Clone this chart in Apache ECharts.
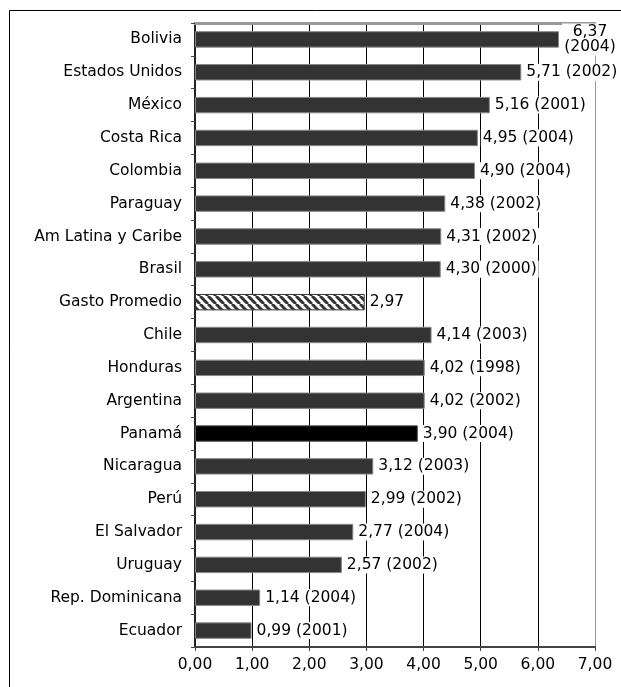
<!DOCTYPE html>
<html>
<head>
<meta charset="utf-8">
<script src="https://cdn.jsdelivr.net/npm/echarts@6/dist/echarts.min.js"></script>
<style>
  html, body { margin: 0; padding: 0; background: #fff; }
  #chart { width: 621px; height: 687px; }
</style>
</head>
<body>
<div id="chart"></div>
<script>
// datos del gráfico
const countries = ['Bolivia', 'Estados Unidos', 'México', 'Costa Rica', 'Colombia', 'Paraguay',
  'Am Latina y Caribe', 'Brasil', 'Gasto Promedio', 'Chile', 'Honduras', 'Argentina', 'Panamá',
  'Nicaragua', 'Perú', 'El Salvador', 'Uruguay', 'Rep. Dominicana', 'Ecuador']
const values = [6.37, 5.71, 5.16, 4.95, 4.90, 4.38, 4.31, 4.30, 2.97, 4.14, 4.02, 4.02, 3.90,
  3.12, 2.99, 2.77, 2.57, 1.14, 0.99]
const years = ['2004', '2002', '2001', '2004', '2004', '2002', '2002', '2000', '', '2003', '1998',
  '2002', '2004', '2003', '2002', '2004', '2002', '2004', '2001']
const xTicks = [0, 1, 2, 3, 4, 5, 6, 7]

const fmt = v => v.toFixed(2).replace('.', ',')
const FS = 15.5

// trama diagonal para el promedio
const hatch = document.createElement('canvas')
hatch.width = 8
hatch.height = 8
const hc = hatch.getContext('2d')
hc.fillStyle = '#fff'
hc.fillRect(0, 0, 8, 8)
hc.strokeStyle = '#333'
hc.lineWidth = 3
hc.beginPath()
for (let k = -8; k <= 16; k += 8) {
  hc.moveTo(k, 0)
  hc.lineTo(k + 8, 8)
}
hc.stroke()

const chart = echarts.init(document.getElementById('chart'))

const data = values.map((v, i) => {
  const item = { value: v }
  if (countries[i] === 'Panamá') {
    item.itemStyle = { color: '#000', borderColor: '#555' }
  }
  if (countries[i] === 'Gasto Promedio') {
    item.itemStyle = { color: { image: hatch, repeat: 'repeat' }, borderColor: '#333' }
  }
  return item
})

// la última línea vertical (7,00) es gris
const gridColors = xTicks.map((t, i) => i === xTicks.length - 1 ? '#999' : '#000')

chart.setOption({
  animation: false,
  textStyle: { fontFamily: 'DejaVu Sans' },
  grid: { left: 195, right: 26, top: 23, bottom: 40 },
  graphic: [{
    type: 'rect',
    shape: { x: 9.5, y: 10.5, width: 640, height: 690 },
    style: { fill: 'none', stroke: '#000', lineWidth: 1 },
    silent: true
  }],
  xAxis: [{
    type: 'value',
    min: xTicks[0],
    max: xTicks[xTicks.length - 1],
    interval: 1,
    axisLine: { show: true, lineStyle: { color: '#444', width: 2 } },
    axisTick: { show: true, length: 4, lineStyle: { color: '#444' } },
    axisLabel: { color: '#000', fontSize: FS, margin: 10, formatter: v => fmt(v) },
    splitLine: { show: true, lineStyle: { color: gridColors, width: 1 } }
  }, {
    type: 'value',
    position: 'top',
    min: xTicks[0],
    max: xTicks[xTicks.length - 1],
    interval: 1,
    axisLine: { show: true, lineStyle: { color: '#999', width: 3 } },
    axisTick: { show: false },
    axisLabel: { show: false },
    splitLine: { show: false }
  }],
  yAxis: {
    type: 'category',
    data: countries,
    inverse: true,
    axisLine: { show: true, lineStyle: { color: '#222', width: 2 } },
    axisTick: { show: true, length: 4, lineStyle: { color: '#444' } },
    axisLabel: { color: '#000', fontSize: FS, margin: 13 }
  },
  series: [{
    type: 'bar',
    data: data,
    barWidth: '50%',
    z: 3,
    itemStyle: { color: '#333', borderColor: '#888', borderWidth: 1 },
    label: {
      show: true,
      position: 'right',
      distance: 3,
      color: '#000',
      fontSize: FS,
      backgroundColor: '#fff',
      padding: [1, 2],
      lineHeight: 15,
      formatter: p => {
        const y = years[p.dataIndex]
        if (!y) return fmt(p.value)
        if (p.dataIndex === 0) return '{c|' + fmt(p.value) + '}\n{c|(' + y + ')}'
        return fmt(p.value) + ' (' + y + ')'
      },
      rich: {
        c: { width: 52, align: 'center', fontSize: FS, lineHeight: 15, color: '#000' }
      }
    }
  }]
})
</script>
</body>
</html>
